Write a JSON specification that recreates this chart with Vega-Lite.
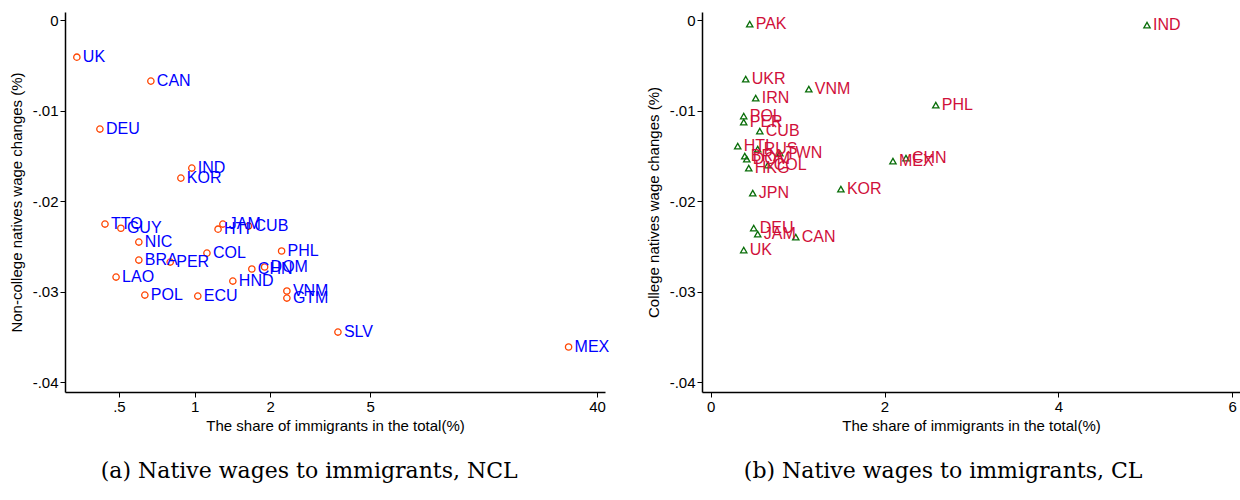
{
  "$schema": "https://vega.github.io/schema/vega-lite/v6.json",
  "background": "white",
  "padding": {"left": 9, "right": 0, "top": 12, "bottom": 5},
  "bounds": "flush",
  "spacing": 97,
  "datasets": {
    "ncl": [
      {"c": "UK", "share": 0.340, "wage": -0.00409},
      {"c": "CAN", "share": 0.670, "wage": -0.00674},
      {"c": "DEU", "share": 0.420, "wage": -0.01204},
      {"c": "IND", "share": 0.975, "wage": -0.01635},
      {"c": "KOR", "share": 0.882, "wage": -0.01746},
      {"c": "TTO", "share": 0.440, "wage": -0.02254},
      {"c": "GUY", "share": 0.509, "wage": -0.02300},
      {"c": "JAM", "share": 1.296, "wage": -0.02254},
      {"c": "HTI", "share": 1.240, "wage": -0.02310},
      {"c": "CUB", "share": 1.640, "wage": -0.02276},
      {"c": "NIC", "share": 0.600, "wage": -0.02453},
      {"c": "COL", "share": 1.120, "wage": -0.02575},
      {"c": "PHL", "share": 2.220, "wage": -0.02552},
      {"c": "BRA", "share": 0.600, "wage": -0.02652},
      {"c": "PER", "share": 0.800, "wage": -0.02674},
      {"c": "CHN", "share": 1.690, "wage": -0.02751},
      {"c": "DOM", "share": 1.900, "wage": -0.02729},
      {"c": "LAO", "share": 0.487, "wage": -0.02840},
      {"c": "HND", "share": 1.420, "wage": -0.02884},
      {"c": "POL", "share": 0.634, "wage": -0.03039},
      {"c": "ECU", "share": 1.030, "wage": -0.03050},
      {"c": "VNM", "share": 2.330, "wage": -0.02994},
      {"c": "GTM", "share": 2.330, "wage": -0.03072},
      {"c": "SLV", "share": 3.720, "wage": -0.03448},
      {"c": "MEX", "share": 30.8, "wage": -0.03613}
    ],
    "cl": [
      {"c": "PAK", "share": 0.449, "wage": -0.00044},
      {"c": "IND", "share": 5.020, "wage": -0.00055},
      {"c": "UKR", "share": 0.403, "wage": -0.00652},
      {"c": "VNM", "share": 1.129, "wage": -0.00762},
      {"c": "IRN", "share": 0.518, "wage": -0.00862},
      {"c": "PHL", "share": 2.590, "wage": -0.00939},
      {"c": "POL", "share": 0.380, "wage": -0.01060},
      {"c": "PER", "share": 0.380, "wage": -0.01127},
      {"c": "CUB", "share": 0.565, "wage": -0.01227},
      {"c": "HTI", "share": 0.311, "wage": -0.01392},
      {"c": "RUS", "share": 0.541, "wage": -0.01425},
      {"c": "TWN", "share": 0.795, "wage": -0.01470},
      {"c": "BRA", "share": 0.392, "wage": -0.01503},
      {"c": "DOM", "share": 0.415, "wage": -0.01536},
      {"c": "COL", "share": 0.657, "wage": -0.01602},
      {"c": "HKG", "share": 0.438, "wage": -0.01635},
      {"c": "MEX", "share": 2.097, "wage": -0.01558},
      {"c": "CHN", "share": 2.247, "wage": -0.01525},
      {"c": "KOR", "share": 1.498, "wage": -0.01867},
      {"c": "JPN", "share": 0.484, "wage": -0.01912},
      {"c": "DEU", "share": 0.495, "wage": -0.02298},
      {"c": "JAM", "share": 0.541, "wage": -0.02365},
      {"c": "CAN", "share": 0.979, "wage": -0.02398},
      {"c": "UK", "share": 0.380, "wage": -0.02541}
    ]
  },
  "config": {
    "view": {"stroke": null},
    "font": "Liberation Sans",
    "axis": {
      "grid": false,
      "domainColor": "black",
      "domainWidth": 1.5,
      "tickColor": "black",
      "tickSize": 5,
      "labelPadding": 2,
      "labelColor": "black",
      "labelFont": "Liberation Sans",
      "labelFontSize": 15,
      "titleFont": "Liberation Sans",
      "titleFontSize": 15,
      "titleFontWeight": "normal",
      "titleColor": "black"
    },
    "title": {"font": "DejaVu Serif", "fontSize": 22, "fontWeight": "normal", "color": "black", "orient": "bottom", "offset": 28, "frame": "bounds", "anchor": "middle"}
  },
  "hconcat": [
    {
      "width": 540,
      "height": 380,
      "title": {"text": "(a) Native wages to immigrants, NCL", "orient": "bottom", "frame": "bounds"},
      "data": {"name": "ncl"},
      "encoding": {
        "x": {"field": "share", "type": "quantitative",
          "scale": {"type": "log", "domain": [0.305, 43], "nice": false, "zero": false},
          "axis": {"title": "The share of immigrants in the total(%)", "values": [0.5, 1, 2, 5, 40],
            "labelExpr": "replace(format(datum.value, '~g'), '0.', '.')", "titlePadding": 4}},
        "y": {"field": "wage", "type": "quantitative",
          "scale": {"domain": [-0.0411, 0.0009], "nice": false, "zero": false},
          "axis": {"title": "Non-college natives wage changes (%)", "values": [0, -0.01, -0.02, -0.03, -0.04],
            "labelExpr": "datum.value == 0 ? '0' : '-' + replace(format(abs(datum.value), '.2f'), '0.', '.')", "titlePadding": 8}}
      },
      "layer": [
        {"mark": {"type": "point", "shape": "circle", "filled": false, "stroke": "#FF4500", "strokeWidth": 1.3, "size": 40, "opacity": 1}},
        {"mark": {"type": "text", "align": "left", "baseline": "middle", "dx": 6, "fontSize": 16, "color": "#0000FF"},
          "encoding": {"text": {"field": "c"}}}
      ]
    },
    {
      "width": 538,
      "height": 380,
      "title": {"text": "(b) Native wages to immigrants, CL", "orient": "bottom", "frame": "bounds"},
      "data": {"name": "cl"},
      "encoding": {
        "x": {"field": "share", "type": "quantitative",
          "scale": {"domain": [-0.1, 6.09], "nice": false, "zero": false},
          "axis": {"title": "The share of immigrants in the total(%)", "values": [0, 2, 4, 6], "titlePadding": 4}},
        "y": {"field": "wage", "type": "quantitative",
          "scale": {"domain": [-0.0411, 0.0009], "nice": false, "zero": false},
          "axis": {"title": "College natives wage changes (%)", "values": [0, -0.01, -0.02, -0.03, -0.04],
            "labelExpr": "datum.value == 0 ? '0' : '-' + replace(format(abs(datum.value), '.2f'), '0.', '.')", "titlePadding": 8}}
      },
      "layer": [
        {"mark": {"type": "point", "shape": "triangle-up", "filled": false, "stroke": "#0A6E0A", "strokeWidth": 1.3, "size": 40, "opacity": 1}},
        {"mark": {"type": "text", "align": "left", "baseline": "middle", "dx": 6, "fontSize": 16, "color": "#D0103A"},
          "encoding": {"text": {"field": "c"}}}
      ]
    }
  ]
}
